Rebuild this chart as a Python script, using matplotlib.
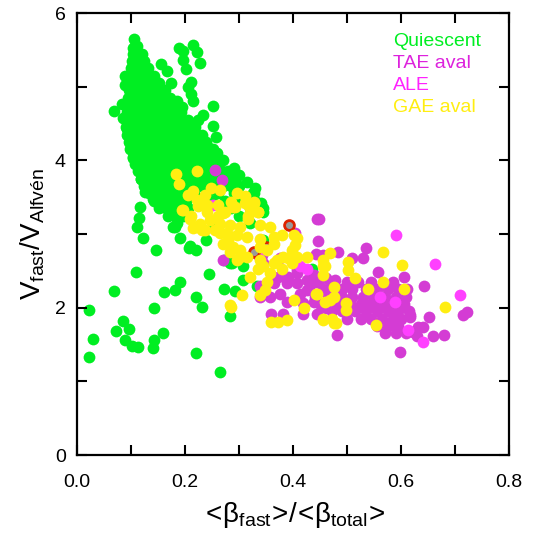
import matplotlib
matplotlib.use("Agg")
import matplotlib.pyplot as plt
import numpy as np

plt.rcParams['font.family'] = ['Liberation Sans', 'DejaVu Sans']
plt.rcParams['mathtext.fontset'] = 'custom'
plt.rcParams['mathtext.rm'] = 'Liberation Sans'
plt.rcParams['mathtext.it'] = 'Liberation Sans'
plt.rcParams['mathtext.default'] = 'regular'

# quiescent: dense core read row by row (y, x positions)
quiescent_rows = [
    (5.55, [0.107, 0.112]),
    (5.45, [0.104, 0.113, 0.120]),
    (5.35, [0.102, 0.112, 0.124]),
    (5.25, [0.100, 0.110, 0.121, 0.132]),
    (5.15, [0.099, 0.109, 0.119, 0.130, 0.142]),
    (5.05, [0.098, 0.108, 0.118, 0.129, 0.140, 0.152]),
    (4.95, [0.097, 0.107, 0.117, 0.128, 0.139, 0.150, 0.163]),
    (4.85, [0.095, 0.106, 0.116, 0.127, 0.138, 0.149, 0.160, 0.172]),
    (4.75, [0.094, 0.105, 0.115, 0.126, 0.137, 0.148, 0.159, 0.170, 0.181]),
    (4.65, [0.093, 0.104, 0.115, 0.126, 0.137, 0.148, 0.159, 0.170, 0.181, 0.192]),
    (4.55, [0.091, 0.103, 0.114, 0.125, 0.136, 0.147, 0.158, 0.169, 0.180, 0.192, 0.205]),
    (4.45, [0.090, 0.102, 0.113, 0.124, 0.136, 0.147, 0.158, 0.170, 0.182, 0.194, 0.207, 0.218]),
    (4.35, [0.093, 0.104, 0.115, 0.127, 0.138, 0.150, 0.161, 0.173, 0.185, 0.197, 0.209, 0.222, 0.232]),
    (4.25, [0.096, 0.107, 0.118, 0.130, 0.141, 0.153, 0.164, 0.176, 0.188, 0.200, 0.212, 0.224, 0.238]),
    (4.15, [0.100, 0.111, 0.122, 0.134, 0.145, 0.157, 0.168, 0.180, 0.192, 0.204, 0.216, 0.228, 0.242, 0.252]),
    (4.05, [0.104, 0.115, 0.126, 0.138, 0.149, 0.161, 0.172, 0.184, 0.196, 0.208, 0.220, 0.232, 0.245, 0.258]),
    (3.95, [0.108, 0.119, 0.130, 0.142, 0.153, 0.165, 0.176, 0.188, 0.200, 0.212, 0.224, 0.236, 0.249, 0.262]),
    (3.85, [0.113, 0.124, 0.135, 0.147, 0.158, 0.170, 0.181, 0.193, 0.205, 0.217, 0.229, 0.241, 0.254, 0.268, 0.280]),
    (3.75, [0.118, 0.130, 0.141, 0.153, 0.164, 0.176, 0.187, 0.199, 0.211, 0.223, 0.236, 0.249, 0.262, 0.275, 0.290]),
    (3.65, [0.125, 0.137, 0.148, 0.160, 0.171, 0.183, 0.195, 0.207, 0.219, 0.232, 0.245, 0.258, 0.271, 0.285]),
    (3.55, [0.133, 0.145, 0.156, 0.168, 0.180, 0.192, 0.204, 0.216, 0.240, 0.262, 0.290, 0.325]),
    (3.45, [0.142, 0.154, 0.166, 0.178, 0.190, 0.202, 0.250, 0.275, 0.300, 0.330]),
    (3.35, [0.152, 0.165, 0.177, 0.190, 0.205, 0.285, 0.320, 0.345]),
    (3.25, [0.168, 0.182, 0.196, 0.300]),
    (3.15, [0.185, 0.320]),
]

# quiescent: scattered points
quiescent_x = [0.106, 0.104, 0.188, 0.215, 0.222, 0.197, 0.196, 0.228, 0.202, 0.155,
               0.166, 0.175, 0.212, 0.206, 0.212, 0.215, 0.251, 0.185, 0.194, 0.234,
               0.225, 0.251, 0.257, 0.259, 0.240, 0.089, 0.088, 0.069, 0.083, 0.086,
               0.092, 0.098, 0.104, 0.120, 0.283, 0.296, 0.300, 0.315, 0.330, 0.300,
               0.320, 0.340, 0.290, 0.270,
               0.147, 0.123, 0.112, 0.114, 0.117, 0.119, 0.126, 0.141, 0.181, 0.190,
               0.209, 0.220, 0.238, 0.254, 0.178, 0.207, 0.253, 0.272, 0.287, 0.283,
               0.307, 0.308, 0.333, 0.327, 0.345, 0.345, 0.435,
               0.023, 0.029, 0.022, 0.069, 0.086, 0.072, 0.097, 0.088, 0.102, 0.113,
               0.109, 0.143, 0.142, 0.141, 0.159, 0.161, 0.182, 0.191, 0.220, 0.232,
               0.220, 0.265, 0.245, 0.273, 0.292, 0.283]
quiescent_y = [5.65, 5.53, 5.53, 5.57, 5.47, 5.49, 5.36, 5.32, 5.24, 5.31,
               5.21, 5.05, 5.07, 5.00, 4.90, 4.81, 4.74, 4.80, 4.72, 4.62,
               4.55, 4.47, 4.32, 4.10, 4.19, 5.15, 5.02, 4.67, 4.77, 4.57,
               4.43, 4.16, 4.03, 3.78, 3.82, 3.64, 3.80, 3.70, 3.62, 3.65,
               3.50, 3.42, 3.90, 4.00,
               2.78, 2.94, 3.10, 3.22, 3.37, 3.75, 3.57, 3.47, 3.09, 2.95,
               2.84, 2.78, 2.92, 3.13, 3.09, 2.81, 3.14, 2.65, 2.60, 2.60,
               2.56, 2.38, 2.29, 3.55, 3.30, 2.92, 2.52,
               1.97, 1.57, 1.33, 2.23, 1.82, 1.69, 1.71, 1.56, 1.48, 1.47,
               2.49, 2.00, 1.56, 1.45, 1.65, 2.21, 2.24, 2.35, 2.15, 2.01,
               1.39, 1.13, 2.46, 2.26, 2.23, 1.89]

# TAE avalanches
tae_x = [0.256, 0.268, 0.449, 0.444, 0.447, 0.404, 0.536, 0.530, 0.510, 0.484,
         0.443, 0.558, 0.606, 0.643, 0.722, 0.715, 0.651, 0.617, 0.482, 0.598,
         0.679, 0.660, 0.623, 0.629, 0.610, 0.632, 0.641, 0.617, 0.271, 0.342,
         0.345, 0.407, 0.391, 0.373, 0.364, 0.388, 0.407, 0.425, 0.438, 0.447,
         0.462, 0.478, 0.462, 0.425, 0.413, 0.376, 0.357, 0.339, 0.388, 0.419,
         0.438, 0.462, 0.360, 0.382, 0.419, 0.444, 0.472, 0.339, 0.376, 0.407,
         0.456,
         0.44, 0.47, 0.50, 0.52, 0.545, 0.585,
         0.43, 0.455, 0.49, 0.51, 0.535, 0.555, 0.575, 0.595, 0.612,
         0.44, 0.465, 0.49, 0.51, 0.53, 0.55, 0.57, 0.59, 0.61,
         0.45, 0.48, 0.505, 0.525, 0.545, 0.565, 0.585, 0.605,
         0.49, 0.515, 0.535, 0.555, 0.575, 0.595, 0.615,
         0.50, 0.525, 0.545, 0.565, 0.585, 0.60,
         0.555, 0.575, 0.595, 0.57, 0.59]
tae_y = [3.87, 3.73, 3.21, 3.20, 2.90, 3.01, 2.81, 2.68, 2.68, 2.76,
         2.73, 2.48, 2.41, 2.29, 1.94, 1.90, 1.88, 1.88, 1.63, 1.40,
         1.63, 1.61, 1.67, 1.61, 1.65, 1.74, 1.74, 1.90, 2.65, 2.71,
         2.60, 2.47, 2.42, 2.42, 2.33, 2.33, 2.33, 2.38, 2.44, 2.35,
         2.40, 2.38, 2.24, 2.24, 2.19, 2.19, 2.15, 2.15, 2.08, 2.06,
         2.08, 1.99, 1.92, 1.92, 1.92, 1.92, 1.95, 2.29, 2.67, 2.51,
         2.71,
         2.35, 2.35, 2.35, 2.35, 2.35, 2.35,
         2.25, 2.25, 2.25, 2.25, 2.25, 2.25, 2.25, 2.25, 2.25,
         2.15, 2.15, 2.15, 2.15, 2.15, 2.15, 2.15, 2.15, 2.15,
         2.05, 2.05, 2.05, 2.05, 2.05, 2.05, 2.05, 2.05,
         1.95, 1.95, 1.95, 1.95, 1.95, 1.95, 1.95,
         1.85, 1.85, 1.85, 1.85, 1.85, 1.85,
         1.75, 1.75, 1.75, 1.65, 1.65]

# ALE
ale_x = [0.591, 0.663, 0.709, 0.641, 0.413, 0.425, 0.252, 0.561, 0.589, 0.613, 0.335]
ale_y = [2.99, 2.59, 2.17, 1.53, 2.56, 2.53, 3.39, 2.14, 2.08, 1.70, 2.72]

# red-edged points
red_x = [0.393, 0.328, 0.350]
red_y = [3.12, 2.76, 2.82]

# GAE avalanches
gae_x = [0.183, 0.189, 0.222, 0.215, 0.226, 0.197, 0.212, 0.222, 0.249, 0.265,
         0.240, 0.262, 0.274, 0.296, 0.293, 0.311, 0.327, 0.317, 0.336, 0.339,
         0.302, 0.283, 0.265, 0.246, 0.228, 0.215, 0.231, 0.256, 0.265, 0.280,
         0.271, 0.296, 0.314, 0.339, 0.357, 0.364, 0.379, 0.364, 0.339, 0.351,
         0.289, 0.302, 0.283, 0.302, 0.314, 0.296, 0.339, 0.345, 0.336, 0.320,
         0.351, 0.348, 0.339, 0.357, 0.364, 0.370, 0.382, 0.398, 0.404, 0.407,
         0.401, 0.391, 0.379, 0.398, 0.407, 0.425, 0.456, 0.469, 0.456, 0.444,
         0.475, 0.475, 0.401, 0.360, 0.373, 0.388, 0.456, 0.475, 0.305, 0.283,
         0.286, 0.285,
         0.456, 0.502, 0.502, 0.515, 0.420, 0.469, 0.499, 0.499, 0.472, 0.480,
         0.538, 0.554, 0.566, 0.601, 0.606, 0.681, 0.459, 0.456, 0.567, 0.443,
         0.459,
         0.206, 0.237, 0.289, 0.225, 0.240, 0.194, 0.209, 0.222, 0.237, 0.262,
         0.271, 0.259, 0.277, 0.311, 0.327, 0.320, 0.336, 0.317]
gae_y = [3.82, 3.68, 3.86, 3.58, 3.42, 3.33, 3.24, 3.46, 3.62, 3.60,
         3.39, 3.39, 3.30, 3.55, 3.37, 3.42, 3.42, 3.21, 3.30, 3.12,
         3.10, 3.12, 3.14, 3.19, 3.14, 3.08, 3.05, 3.05, 3.01, 2.92,
         2.87, 2.99, 2.96, 2.93, 3.10, 2.96, 2.99, 2.87, 2.83, 2.78,
         2.83, 2.78, 2.76, 2.69, 2.69, 2.65, 2.65, 2.56, 2.53, 2.42,
         2.35, 2.24, 2.17, 2.47, 2.60, 2.65, 2.69, 2.78, 2.85, 2.94,
         2.99, 2.67, 2.53, 2.60, 2.69, 2.69, 2.65, 2.74, 2.44, 2.19,
         2.28, 2.15, 2.10, 1.81, 1.81, 1.83, 1.83, 1.79, 2.17, 2.04,
         3.44, 2.01,
         2.56, 2.62, 2.51, 2.40, 2.00, 2.10, 2.06, 1.97, 1.85, 1.79,
         2.26, 1.76, 2.76, 2.58, 2.26, 2.01, 2.08, 1.85, 2.35, 2.19,
         2.56,
         3.53, 3.53, 3.37, 3.38, 3.30, 3.33, 3.21, 3.10, 3.05, 3.24,
         3.28, 3.05, 3.01, 3.51, 3.44, 3.35, 3.30, 3.24]

legend_labels = ['Quiescent', 'TAE aval', 'ALE', 'GAE aval']

green = '#00EE22'
magenta = '#D43CD4'
pink = '#FF40FF'
yellow = '#FFEE11'
legend_colors = [green, '#DD22DD', '#FF22FF', yellow]

core_x = [x for y, xs in quiescent_rows for x in xs]
core_y = [y for y, xs in quiescent_rows for x in xs]

fig = plt.figure(figsize=(5.41, 5.35), dpi=100)
ax = fig.add_axes([0.1423, 0.1495, 0.7986, 0.8262])

ms = 72
ax.scatter(core_x + quiescent_x, core_y + quiescent_y, s=ms, c=green, linewidths=0)
ax.scatter(tae_x, tae_y, s=ms, c=magenta, linewidths=0)
ax.scatter(ale_x, ale_y, s=ms, c=pink, linewidths=0)
ax.scatter(red_x, red_y, s=50, c='#999999', edgecolors='#DD2200', linewidths=2)
ax.scatter(gae_x, gae_y, s=ms, c=yellow, linewidths=0)

ax.set_xlim(0, 0.8)
ax.set_ylim(0, 6)
ax.set_xticks([0.0, 0.2, 0.4, 0.6, 0.8])
ax.set_xticklabels(['0.0', '0.2', '0.4', '0.6', '0.8'])
ax.set_xticks(np.arange(0.1, 0.8, 0.2), minor=True)
ax.set_yticks([0, 2, 4, 6])
ax.set_yticks([1, 3, 5], minor=True)
ax.tick_params(which='both', direction='in', length=7, width=1.5,
               top=True, right=True, labelsize=14, pad=8)
ax.tick_params(axis='x', which='both', pad=14)
for sp in ax.spines.values():
    sp.set_linewidth(1.6)

ax.set_xlabel(r'$<\!β_{fast}\!>\!/\!<\!β_{total}\!>$', fontsize=20, labelpad=6)
ax.set_ylabel(r'$V_{fast}/V_{Alfvén}$', fontsize=20, labelpad=6)

for i, (lab, col) in enumerate(zip(legend_labels, legend_colors)):
    ax.text(0.585, 5.55 - i * 0.30, lab, color=col, fontsize=14, va='baseline')

fig.savefig('out.png', dpi=100)
